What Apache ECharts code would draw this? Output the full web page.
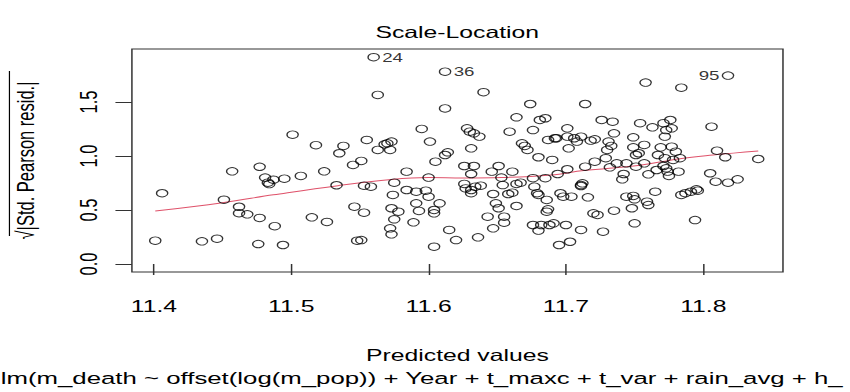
<!DOCTYPE html>
<html>
<head>
<meta charset="utf-8">
<script src="https://cdn.jsdelivr.net/npm/echarts@6/dist/echarts.min.js"></script>
<style>
html,body{margin:0;padding:0;background:#fff;overflow:hidden;width:850px;height:392px;}
#c{width:567px;height:392px;transform:scaleX(1.4991);transform-origin:0 0;}
</style>
</head>
<body>
<div id="c"></div>
<script>
// Fitted values (x) and sqrt(|std. Pearson resid.|) (y)
const predicted = [
11.401,11.406,11.435,11.446,11.451,11.457,11.462,11.462,11.468,11.476,11.477,11.477,11.481,11.483,11.484,11.487,11.488,11.495,11.494,
11.501,11.507,11.515,11.518,11.524,11.526,11.533,11.535,11.538,11.545,11.546,11.548,11.551,11.551,11.553,11.553,11.555,11.558,11.563,11.563,11.568,11.570,11.573,11.572,11.572,11.573,11.573,11.574,11.575,11.575,11.578,11.584,11.584,11.589,11.591,11.591,11.593,11.595,11.598,11.600,11.601,11.600,11.604,11.604,11.605,11.604,11.608,11.612,11.612,11.614,11.615,11.620,
11.626,11.626,11.627,11.628,11.630,11.631,11.631,11.631,11.631,11.633,11.633,11.634,11.637,11.638,11.636,11.640,11.643,11.646,11.647,11.647,11.649,11.651,11.651,11.653,11.654,11.655,11.655,11.659,11.658,11.661,11.661,11.664,11.664,11.664,11.667,11.668,11.670,11.672,11.674,11.676,11.676,11.677,11.676,11.679,11.680,11.680,11.681,11.682,11.680,11.685,11.685,11.686,11.686,11.687,11.687,11.688,11.690,11.691,11.692,11.693,11.694,11.696,11.695,11.698,11.700,11.701,11.701,11.701,11.703,11.704,11.702,11.706,11.708,11.711,11.711,11.712,11.711,11.711,11.714,11.714,11.716,11.718,11.720,11.721,11.723,11.721,11.726,11.727,11.729,11.730,11.731,11.732,11.734,11.735,11.735,11.733,11.737,11.741,11.742,11.744,11.744,11.748,11.749,11.749,11.749,11.750,11.750,11.751,11.751,11.754,
11.758,11.763,11.757,11.753,11.757,11.760,11.759,11.760,11.765,11.766,11.767,11.769,11.771,11.771,11.772,11.772,11.773,11.773,11.774,11.775,11.776,11.777,11.777,11.778,11.780,11.782,11.783,11.784,11.784,11.787,11.791,11.795,11.796,11.794,11.806,11.805,11.810,11.809,11.816,11.818,11.825,11.840
];
const sqrtStdResid = [
0.216,0.655,0.21,0.234,0.595,0.858,0.53,0.47,0.46,0.185,0.90,0.426,0.80,0.753,0.74,0.78,0.35,0.79,0.176,
1.197,0.815,0.432,1.10,0.858,0.389,0.729,1.025,1.093,0.917,0.531,0.216,0.222,0.954,0.475,0.725,1.148,0.716,1.565,1.056,1.108,1.117,1.133,1.056,0.33,0.275,0.516,0.639,0.753,0.414,0.484,0.855,0.685,0.386,0.562,0.669,0.491,1.25,0.679,0.80,1.133,0.623,0.50,0.469,0.947,0.16,0.562,1.44,1.009,1.034,0.315,0.222,
0.907,0.741,0.70,1.256,1.225,1.071,0.833,0.685,0.655,1.21,0.907,0.716,1.179,0.725,0.247,1.59,0.438,0.855,0.33,0.648,0.562,0.907,0.516,0.80,0.731,0.382,0.438,1.225,0.648,0.855,0.66,0.537,1.358,0.741,0.753,1.117,1.093,1.056,1.481,0.794,1.24,0.716,0.361,0.655,0.639,0.988,1.333,0.361,0.309,1.349,0.794,0.593,0.484,0.506,1.148,0.361,0.963,0.377,1.164,1.164,0.833,0.655,0.176,0.623,0.361,1.256,0.877,1.179,0.206,0.623,1.071,1.164,1.133,0.731,0.722,0.747,0.315,1.179,1.481,0.901,0.617,1.142,0.469,1.154,0.454,0.947,1.333,0.299,0.979,1.056,1.133,0.895,1.317,1.21,0.494,1.093,0.932,0.784,0.833,0.623,0.932,0.516,1.173,0.63,1.08,0.377,0.599,1.009,0.901,1.303,
1.679,1.265,1.102,1.025,0.932,0.830,0.577,0.546,0.669,0.870,1.009,1.08,1.303,0.907,0.979,1.179,1.24,0.886,0.855,0.815,1.333,1.256,1.086,0.963,1.04,0.855,0.979,1.632,0.639,0.655,0.669,0.691,0.679,0.407,1.271,0.84,1.049,0.762,0.988,0.753,0.784,0.972
];
// Labelled (most extreme) observations
const idText = ['24', '36', '95'];
const idX = [11.560, 11.612, 11.818];
const idY = [1.914, 1.78, 1.744];
const idSide = ['right', 'right', 'left'];
// Smoother (red line)
const smoothX = [11.401,11.45,11.487,11.534,11.573,11.60,11.625,11.653,11.689,11.713,11.754,11.783,11.807,11.840];
const smoothY = [0.49,0.568,0.64,0.725,0.782,0.80,0.796,0.80,0.824,0.865,0.915,0.975,1.008,1.045];
// Tick values
const xTicks = [11.4, 11.5, 11.6, 11.7, 11.8];
const yTicks = [0.0, 0.5, 1.0, 1.5];

const FONT = "'Liberation Sans', Arial, sans-serif";
const chart = echarts.init(document.getElementById('c'), null, {renderer: 'svg'});

const pts = predicted.map((x, i) => [x, sqrtStdResid[i]]);
const idPts = idX.map((x, i) => ({
  value: [x, idY[i]],
  label: {show: true, formatter: idText[i], position: idSide[i], distance: 1.5,
          fontSize: 12.5, color: '#000', fontFamily: FONT}
}));
const smooth = smoothX.map((x, i) => [x, smoothY[i]]);

const pointStyle = {color: 'rgba(0,0,0,0)', borderColor: '#000', borderWidth: 0.9};

chart.setOption({
  animation: false,
  backgroundColor: '#fff',
  textStyle: {fontFamily: FONT},
  grid: {left: 85.3, right: 44.7, top: 49, bottom: 120, show: true,
         borderColor: '#333', borderWidth: 1, backgroundColor: 'transparent'},
  xAxis: {
    type: 'value', min: 11.384, max: 11.858,
    name: 'Predicted values', nameLocation: 'middle', nameGap: 75,
    nameTextStyle: {fontSize: 16.5, color: '#000', fontFamily: FONT},
    axisLine: {show: false},
    splitLine: {show: false},
    axisTick: {show: true, length: 11, customValues: xTicks, lineStyle: {color: '#333', width: 1}},
    axisLabel: {customValues: xTicks, formatter: v => v.toFixed(1), fontSize: 16.5,
                color: '#000', margin: 26, fontFamily: FONT}
  },
  yAxis: {
    type: 'value', min: -0.074, max: 1.99,
    name: '√|Std. Pearson resid.|', nameLocation: 'middle', nameRotate: 90, nameGap: 63,
    nameTextStyle: {fontSize: 16.5, color: '#000', fontFamily: FONT},
    axisLine: {show: false},
    splitLine: {show: false},
    axisTick: {show: true, length: 11, customValues: yTicks, lineStyle: {color: '#333', width: 1}},
    axisLabel: {customValues: yTicks, formatter: v => v.toFixed(1), fontSize: 16.5,
                rotate: 90, color: '#000', margin: 21, fontFamily: FONT}
  },
  graphic: [
    {type: 'text', x: 305, y: 32, style: {text: 'Scale-Location', fontSize: 16.5, fill: '#000',
      fontFamily: FONT, textAlign: 'center', textVerticalAlign: 'middle'}},
    {type: 'line', shape: {x1: 6.3, y1: 71, x2: 6.3, y2: 236}, style: {stroke: '#000', lineWidth: 0.8}},
    {type: 'text', x: 0.5, y: 378, style: {text: 'lm(m_death ~ offset(log(m_pop)) + Year + t_maxc + t_var + rain_avg + h_',
      fontSize: 17.2, fill: '#000', fontFamily: FONT, textAlign: 'left', textVerticalAlign: 'middle'}}
  ],
  series: [
    {type: 'scatter', data: pts, symbol: 'circle', symbolSize: 7.5, itemStyle: pointStyle, z: 3},
    {type: 'scatter', data: idPts, symbol: 'circle', symbolSize: 7.5, itemStyle: pointStyle, z: 3},
    {type: 'line', data: smooth, smooth: 0.4, showSymbol: false, symbol: 'none',
     lineStyle: {color: '#DF536B', width: 1}, z: 2}
  ]
});
</script>
</body>
</html>
